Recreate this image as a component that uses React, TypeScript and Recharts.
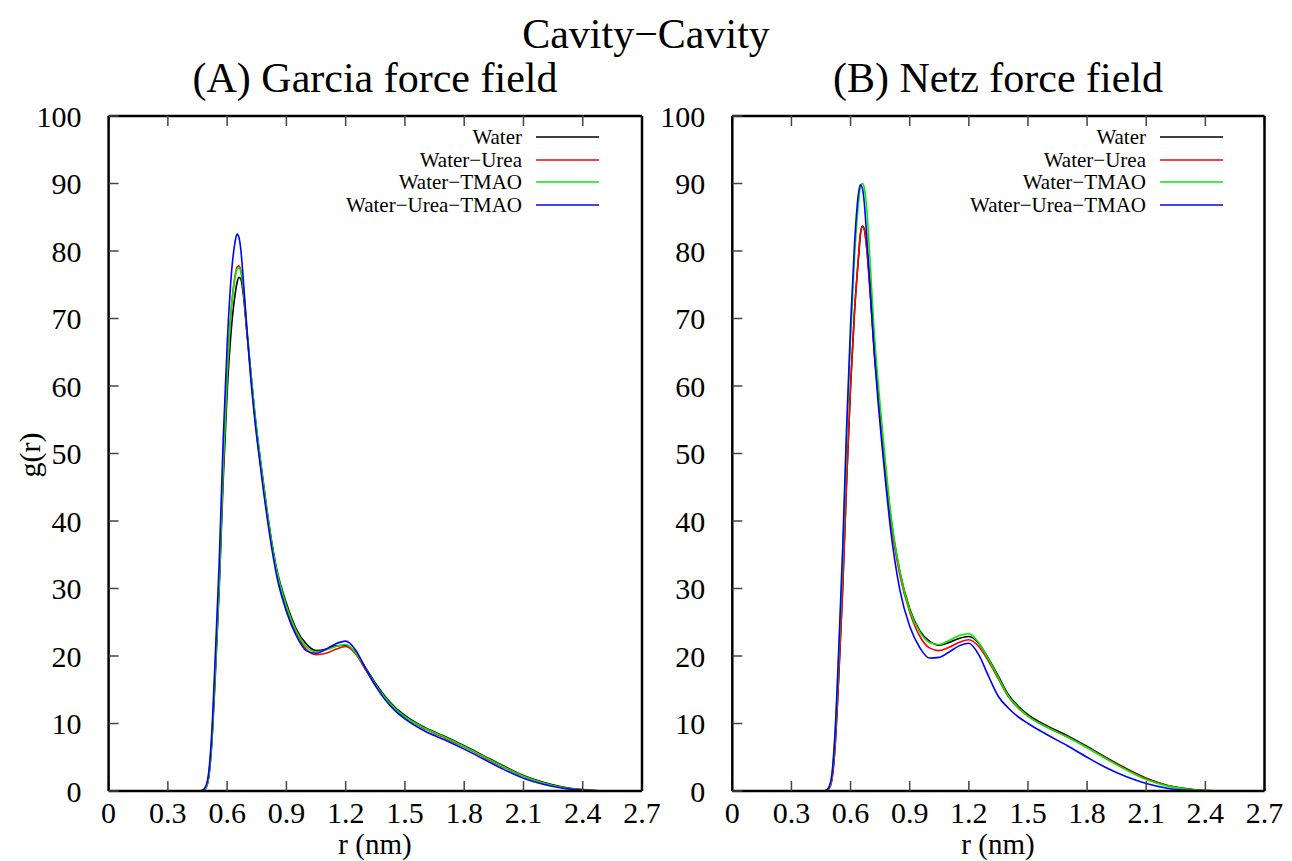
import { Legend, Line, LineChart, XAxis, YAxis } from "recharts";

const SERIF = "Liberation Serif, Times New Roman, DejaVu Serif, serif";

// shared r grid (nm)
const rGrid = [
  0.3, 0.46, 0.48, 0.5, 0.52, 0.54, 0.56, 0.58, 0.6, 0.62, 0.64, 0.65, 0.66, 0.67, 0.68, 0.7, 0.72, 0.74,
  0.76, 0.78, 0.8, 0.85, 0.9, 0.95, 1.0, 1.05, 1.1, 1.15, 1.2, 1.25, 1.3, 1.35, 1.4, 1.45, 1.5, 1.6, 1.7,
  1.8, 1.9, 2.0, 2.1, 2.2, 2.3, 2.4, 2.5,
];

const xTicks = [0, 0.3, 0.6, 0.9, 1.2, 1.5, 1.8, 2.1, 2.4, 2.7];
const yTicks = [0, 10, 20, 30, 40, 50, 60, 70, 80, 90, 100];

// (A) Garcia force field
const garciaWater = [
  0, 0, 0.1, 1, 6, 17, 30, 46, 59, 68, 73.5, 75.3, 76.1, 75.8, 74, 68, 62, 56, 51, 46.5, 42, 33, 27.8, 24,
  21.8, 20.8, 21.0, 21.5, 21.6, 20.5, 18.3, 16, 14, 12.4, 11.2, 9.4, 8.1, 6.7, 5.2, 3.7, 2.3, 1.3, 0.6, 0.2, 0,
];
const garciaUrea = [
  0, 0, 0.1, 1.1, 6.5, 18, 31, 48, 61.5, 71, 76.3, 77.6, 77.8, 77, 75, 68, 61.5, 55.5, 50.5, 46, 41.5, 32.5,
  27, 23.4, 21, 20.2, 20.4, 21.0, 21.4, 20.3, 18, 15.7, 13.7, 12.1, 10.9, 9.2, 7.9, 6.5, 5.0, 3.5, 2.2, 1.2,
  0.5, 0.15, 0,
];
const garciaTmao = [
  0, 0, 0.1, 1.1, 6.5, 18, 31, 48, 61.5, 71, 76, 77.3, 77.5, 76.8, 75, 68.5, 62, 56, 51, 46.3, 41.8, 32.8,
  27.4, 23.7, 21.4, 20.6, 20.9, 21.4, 21.7, 20.5, 18.2, 15.8, 13.8, 12.2, 11, 9.3, 8, 6.6, 5.1, 3.6, 2.2, 1.2,
  0.5, 0.15, 0,
];
const garciaUreaTmao = [
  0, 0, 0.2, 1.5, 7.5, 20, 34, 52, 66, 76, 81.3, 82.5, 82, 80, 76.5, 68.5, 61, 55, 50, 45.3, 41, 32, 26.6,
  23, 20.8, 20.4, 21, 21.8, 22.2, 20.9, 18.2, 15.6, 13.5, 11.9, 10.7, 8.9, 7.6, 6.2, 4.7, 3.2, 1.9, 1.0, 0.4,
  0.1, 0,
];

// (B) Netz force field
const netzWater = [
  0, 0, 0.1, 1, 6, 17, 30, 46, 60, 71, 79, 82.5, 83.7, 83.2, 81, 74, 65.5, 59, 53, 47, 41.5, 32.5, 27, 23.8,
  22.2, 21.6, 22, 22.6, 22.9, 21.9, 19.6, 17, 14.3, 12.6, 11.3, 9.6, 8.2, 6.6, 4.9, 3.3, 1.9, 0.9, 0.35, 0.05, 0,
];
const netzUrea = [
  0, 0, 0.1, 1, 6, 17, 30, 46, 60, 71, 79, 82.5, 83.6, 83.1, 81, 73.5, 65, 58.5, 52.5, 46.5, 41, 32, 26.5, 23,
  21.2, 20.8, 21.3, 22, 22.4, 21.4, 19.2, 16.6, 14, 12.3, 11.1, 9.4, 8, 6.5, 4.8, 3.2, 1.8, 0.85, 0.3, 0.05, 0,
];
const netzTmao = [
  0, 0, 0.15, 1.3, 7.5, 20, 34, 52, 67, 79, 87, 89.5, 90, 89.3, 87, 78, 68, 60.5, 54, 47.8, 42, 32.5, 26.8,
  23.6, 22, 21.7, 22.3, 23, 23.3, 22, 19.5, 16.8, 14.1, 12.4, 11.1, 9.4, 8, 6.4, 4.7, 3.1, 1.7, 0.8, 0.3, 0.05, 0,
];
const netzUreaTmao = [
  0, 0, 0.2, 1.5, 8, 21, 36, 54, 69, 81, 88.5, 89.8, 89.3, 87, 83, 74, 65, 57.5, 51, 45, 39.5, 29.8, 24.4,
  21.3, 19.7, 19.8, 20.6, 21.5, 21.9, 20.2, 17, 14, 12.3, 11, 10, 8.3, 6.7, 5.0, 3.4, 2.1, 1.1, 0.45, 0.1, 0, 0,
];

const seriesNames = ["Water", "Water\u2212Urea", "Water\u2212TMAO", "Water\u2212Urea\u2212TMAO"];
const seriesKeys = ["water", "urea", "tmao", "ureaTmao"];
const seriesColors = ["#000000", "#ff0000", "#00ee00", "#0000ff"];

function buildRows(values: number[][]) {
  return rGrid.map((r, i) => {
    const row: Record<string, number> = { r };
    seriesKeys.forEach((k, j) => (row[k] = values[j][i]));
    return row;
  });
}

const garciaRows = buildRows([garciaWater, garciaUrea, garciaTmao, garciaUreaTmao]);
const netzRows = buildRows([netzWater, netzUrea, netzTmao, netzUreaTmao]);

const tickStyle = { fill: "#000", fontSize: 30, fontFamily: SERIF };
const frame = { stroke: "#000", strokeWidth: 2.5 };
const tickLine = { stroke: "#444", strokeWidth: 1.5 };

function LegendBox() {
  return (
    <div style={{ fontFamily: SERIF, fontSize: 21, color: "#000" }}>
      {seriesNames.map((name, i) => (
        <div
          key={name}
          style={{ display: "flex", alignItems: "center", justifyContent: "flex-end", height: 22.5 }}
        >
          <span style={{ whiteSpace: "nowrap", lineHeight: "20px" }}>{name}</span>
          <svg width={63} height={4} style={{ marginLeft: 14, display: "block" }}>
            <line x1={0} y1={2} x2={63} y2={2} stroke={seriesColors[i]} strokeWidth={1.5} />
          </svg>
        </div>
      ))}
    </div>
  );
}

type PanelProps = {
  rows: Record<string, number>[];
  left: number;
  width: number;
  marginLeft: number;
  marginRight: number;
  legendLeft: number;
};

function Panel({ rows, left, width, marginLeft, marginRight, legendLeft }: PanelProps) {
  return (
    <div style={{ position: "absolute", left, top: 0 }}>
      <LineChart
        width={width}
        height={861}
        data={rows}
        margin={{ top: 115, right: marginRight, bottom: 0, left: marginLeft }}
      >
        <XAxis
          dataKey="r"
          type="number"
          domain={[0, 2.7]}
          ticks={xTicks}
          interval={0}
          tick={tickStyle}
          tickSize={-10}
          tickMargin={21}
          axisLine={frame}
          tickLine={tickLine}
          height={70}
        />
        <XAxis
          xAxisId="top"
          orientation="top"
          dataKey="r"
          type="number"
          domain={[0, 2.7]}
          ticks={xTicks}
          interval={0}
          tickFormatter={() => ""}
          tickSize={-10}
          axisLine={frame}
          tickLine={tickLine}
          height={1}
        />
        <YAxis
          type="number"
          domain={[0, 100]}
          ticks={yTicks}
          interval={0}
          tick={tickStyle}
          tickSize={-10}
          tickMargin={37}
          axisLine={frame}
          tickLine={tickLine}
          width={60}
        />
        <YAxis
          yAxisId="right"
          orientation="right"
          type="number"
          domain={[0, 100]}
          ticks={yTicks}
          interval={0}
          tickFormatter={() => ""}
          tickSize={-10}
          axisLine={frame}
          tickLine={tickLine}
          width={1}
        />
        <Legend
          layout="horizontal"
          verticalAlign="middle"
          align="center"
          content={() => <LegendBox />}
          wrapperStyle={{ top: 126, left: legendLeft, width: 300 }}
        />
        {seriesKeys.map((k, i) => (
          <Line
            key={k}
            dataKey={k}
            name={seriesNames[i]}
            type="monotone"
            stroke={seriesColors[i]}
            strokeWidth={1.6}
            dot={false}
            isAnimationActive={false}
          />
        ))}
      </LineChart>
    </div>
  );
}

const textBase = { position: "absolute" as const, fontFamily: SERIF, color: "#000", whiteSpace: "nowrap" as const };

export default function App() {
  return (
    <div style={{ position: "absolute", left: 0, top: 0, width: 1292, height: 861, background: "#fff", overflow: "hidden" }}>
      <div style={{ ...textBase, left: 0, width: 1292, top: 10, textAlign: "center", fontSize: 42, lineHeight: "48px" }}>
        Cavity{"\u2212"}Cavity
      </div>
      <div style={{ ...textBase, left: 75, width: 600, top: 54, textAlign: "center", fontSize: 42, lineHeight: "48px" }}>
        (A) Garcia force field
      </div>
      <div style={{ ...textBase, left: 698, width: 600, top: 54, textAlign: "center", fontSize: 42, lineHeight: "48px" }}>
        (B) Netz force field
      </div>
      <div
        style={{
          ...textBase,
          left: 30,
          top: 455,
          fontSize: 30,
          transform: "translate(-50%, -50%) rotate(-90deg)",
        }}
      >
        g(r)
      </div>
      <div style={{ ...textBase, left: 225, width: 300, top: 830, textAlign: "center", fontSize: 29, lineHeight: "29px" }}>
        r (nm)
      </div>
      <div style={{ ...textBase, left: 848, width: 300, top: 830, textAlign: "center", fontSize: 29, lineHeight: "29px" }}>
        r (nm)
      </div>

      <Panel rows={garciaRows} left={0} width={660} marginLeft={48.6} marginRight={17} legendLeft={299} />
      <Panel rows={netzRows} left={640} width={652} marginLeft={32.3} marginRight={26.5} legendLeft={283} />
    </div>
  );
}
